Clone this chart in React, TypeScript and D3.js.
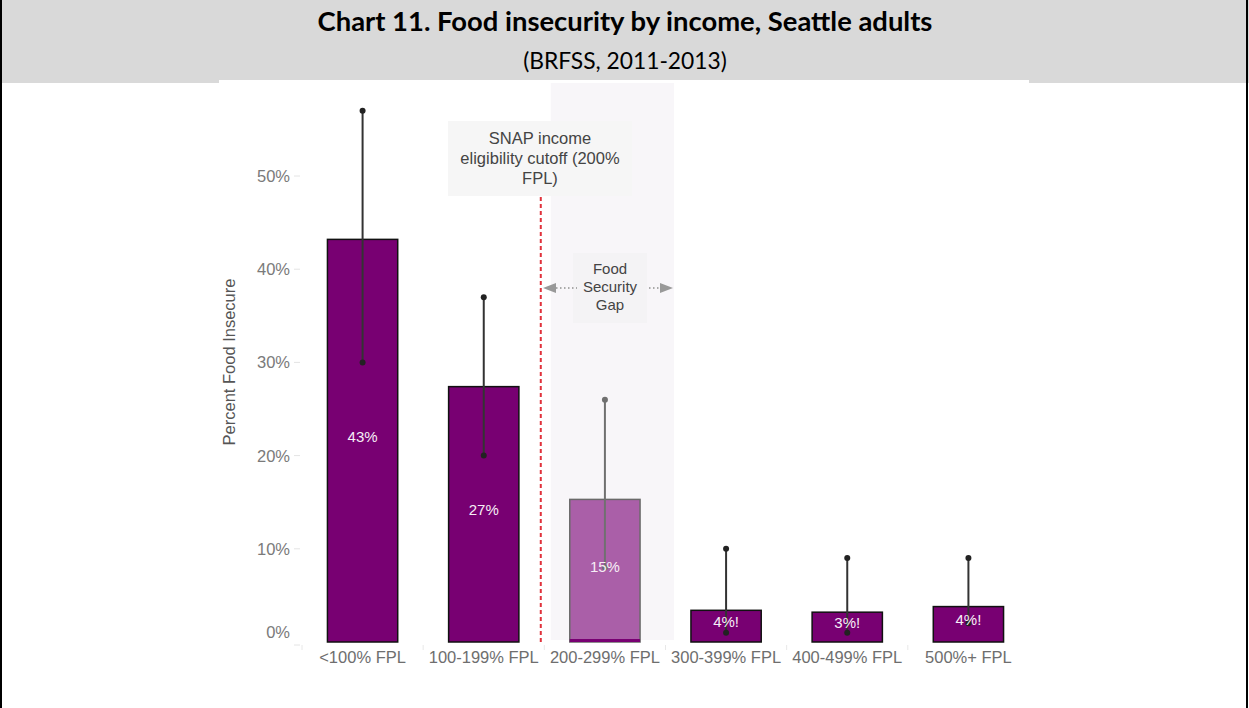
import React from 'react';
import * as d3 from 'd3';

const categories = ['<100% FPL', '100-199% FPL', '200-299% FPL', '300-399% FPL', '400-499% FPL', '500%+ FPL'];
const values = [43.2, 27.4, 15.3, 3.4, 3.2, 3.8];
const lower = [30, 20, 8, 1, 1, 2];
const upper = [57, 37, 26, 10, 9, 9];
const labels = ['43%', '27%', '15%', '4%!', '3%!', '4%!'];
const yTicks = [0, 10, 20, 30, 40, 50];

const W = 1249;
const H = 708;
const purple = '#780072';
const lightPurple = '#aa5fa8';

const App: React.FC = () => {
  const x = d3.scaleBand<string>().domain(categories).range([302, 1029]).paddingInner(0.42).paddingOuter(0.21);
  const y = d3.scaleLinear().domain([0, 50]).range([642, 176]);
  const bw = x.bandwidth();
  const font = "'Liberation Sans', Arial, sans-serif";
  const titleFont = "Lato, 'Open Sans', sans-serif";

  // cutoff line sits between 2nd and 3rd categories
  const cutX = x(categories[2])! - 29;
  const shadeX0 = x(categories[2])! - 19;
  const shadeX1 = x(categories[2])! + bw + 34;

  return (
    <svg width={W} height={H} style={{ position: 'absolute', left: 0, top: 0, background: '#fff' }}>
      {/* header */}
      <rect x={0} y={0} width={W} height={83} fill="#d9d9d9" />
      <rect x={219} y={80} width={810} height={4} fill="#fff" />
      <text x={625} y={31} textAnchor="middle" fontFamily={titleFont} fontWeight={700} fontSize={27.4} fill="#000">
        Chart 11. Food insecurity by income, Seattle adults
      </text>
      <text x={625} y={69} textAnchor="middle" fontFamily={titleFont} fontSize={22.8} fill="#000">
        (BRFSS, 2011-2013)
      </text>
      <rect x={0} y={0} width={2} height={H} fill="#000" />
      <rect x={1246} y={0} width={2} height={H} fill="#000" />

      {/* shaded gap region */}
      <rect x={shadeX0} y={83} width={shadeX1 - shadeX0} height={y(0) - 2 - 83} fill="#f8f6f9" />

      {/* y axis */}
      {yTicks.map(t => (
        <g key={t}>
          <text x={290} y={t === 0 ? y(t) - 4 : y(t) + 6} textAnchor="end" fontFamily={font} fontSize={16.5} fill="#7a7a7a">
            {t}%
          </text>
          <line x1={294} x2={300} y1={t === 0 ? y(t) + 3 : y(t)} y2={t === 0 ? y(t) + 3 : y(t)} stroke="#e4e4e4" strokeWidth={1} />
        </g>
      ))}
      <text transform={`translate(235,362) rotate(-90)`} textAnchor="middle" fontFamily={font} fontSize={16.5} fill="#555">
        Percent Food Insecure
      </text>

      {/* x tick marks + labels */}
      {categories.map(c => (
        <g key={c}>
          <line x1={x(c)! - (x.step() - bw) / 2} x2={x(c)! - (x.step() - bw) / 2} y1={y(0) + 3} y2={y(0) + 8} stroke="#e8e8e8" />
          <text x={x(c)! + bw / 2} y={y(0) + 21} textAnchor="middle" fontFamily={font} fontSize={16.5} fill="#6e6e6e">
            {c}
          </text>
        </g>
      ))}

      {/* bars */}
      {categories.map((c, i) => {
        const light = i === 2;
        return (
          <g key={c}>
            <rect x={x(c)!} y={y(values[i])} width={bw} height={y(0) - y(values[i])}
              fill={light ? lightPurple : purple} stroke={light ? '#6a6a6a' : '#111'} strokeWidth={1.5} />
            {light && <rect x={x(c)!} y={y(0) - 3} width={bw} height={3} fill={purple} />}
          </g>
        );
      })}

      {/* error bars */}
      {categories.map((c, i) => {
        const cx = x(c)! + bw / 2;
        const col = i === 2 ? '#707070' : '#222';
        return (
          <g key={c}>
            <line x1={cx} x2={cx} y1={y(upper[i])} y2={y(lower[i])} stroke={i === 2 ? '#707070' : '#333'} strokeWidth={2} />
            <circle cx={cx} cy={y(upper[i])} r={3} fill={col} />
            <circle cx={cx} cy={y(lower[i])} r={3} fill={col} />
          </g>
        );
      })}

      {/* bar value labels */}
      {categories.map((c, i) => (
        <text key={c} x={x(c)! + bw / 2} y={y(values[i] / 2) - 3} textAnchor="middle" dominantBaseline="middle"
          fontFamily={font} fontSize={15} fill="#f6eef6">
          {labels[i]}
        </text>
      ))}

      {/* SNAP cutoff line */}
      <line x1={cutX} x2={cutX} y1={197} y2={y(0)} stroke="#e0323c" strokeWidth={2} strokeDasharray="4,3" />
      <rect x={448} y={121} width={184} height={75} fill="#f6f6f6" />
      {['SNAP income', 'eligibility cutoff (200%', 'FPL)'].map((s, i) => (
        <text key={s} x={540} y={144 + i * 20} textAnchor="middle" fontFamily={font} fontSize={16.5} fill="#444">
          {s}
        </text>
      ))}

      {/* food security gap annotation */}
      <rect x={573} y={253} width={74} height={70} fill="#f4f3f5" />
      {['Food', 'Security', 'Gap'].map((s, i) => (
        <text key={s} x={610} y={274 + i * 18} textAnchor="middle" fontFamily={font} fontSize={15} fill="#444">
          {s}
        </text>
      ))}
      <line x1={556} x2={577} y1={288} y2={288} stroke="#aaa" strokeWidth={2} strokeDasharray="1.5,2.5" />
      <line x1={649} x2={660} y1={288} y2={288} stroke="#aaa" strokeWidth={2} strokeDasharray="1.5,2.5" />
      <path d="M543,288 L556,283 L556,293 Z" fill="#999" />
      <path d="M673,288 L660,283 L660,293 Z" fill="#999" />
    </svg>
  );
};

export default App;
